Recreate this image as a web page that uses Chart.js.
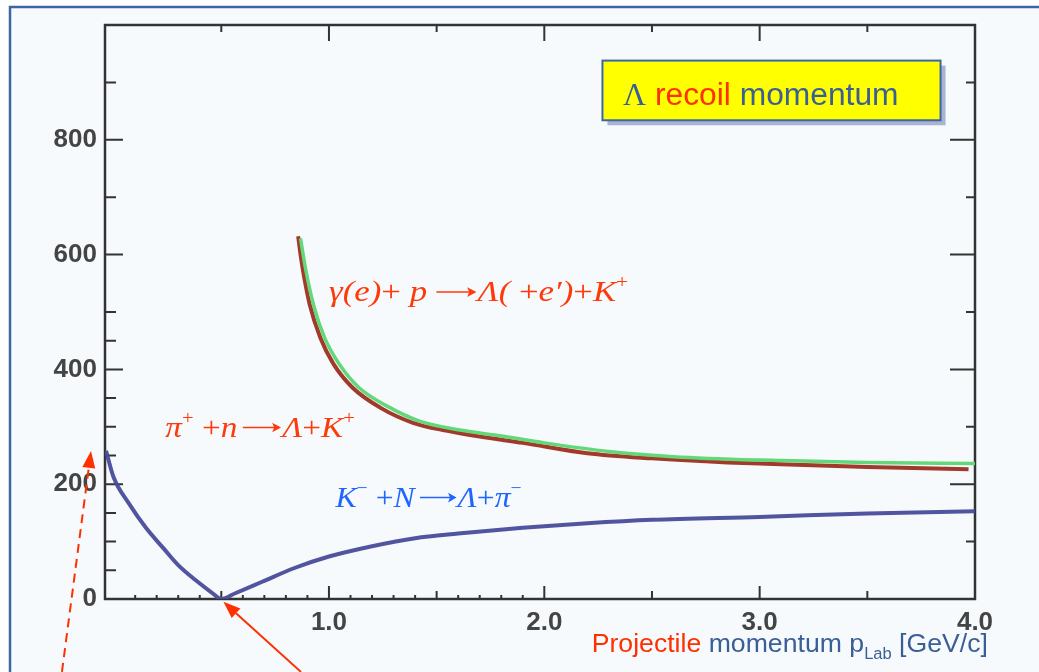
<!DOCTYPE html>
<html>
<head>
<meta charset="utf-8">
<title>Lambda recoil momentum</title>
<script src="https://cdn.jsdelivr.net/npm/chart.js@4/dist/chart.umd.min.js"></script>
<style>
  html, body { margin: 0; padding: 0; background: #ffffff; }
  #wrap { width: 1039px; height: 672px; }
</style>
</head>
<body>
<div id="wrap"><canvas id="myChart" width="1039" height="672"></canvas></div>
<script>
// tick labels
const xTicks = [1.0, 2.0, 3.0, 4.0];
const yTicks = [0, 200, 400, 600, 800];

// K- + N -> Lambda + pi-  (blue)
const kaonP = [-0.035, 0.0, 0.07, 0.15, 0.23, 0.30, 0.38, 0.46, 0.50, 0.565, 0.69, 0.84, 1.0, 1.2, 1.4, 1.6, 1.9, 2.2, 2.5, 3.0, 3.5, 4.0];
const kaonQ = [258, 212, 167, 124, 89, 59, 33, 10, 0, 10, 30, 54, 74, 92, 106, 114, 124, 132, 138, 143, 149, 153];

// gamma + p -> Lambda + K+  (red, scanned curve)
const photoP = [0.857, 0.87, 0.88, 0.91, 0.96, 1.02, 1.11, 1.24, 1.39, 1.55, 1.7, 1.9, 2.2, 2.5, 2.85, 3.0, 3.5, 3.97];
const photoQ = [632, 595, 571, 514, 455, 410, 368, 333, 307, 293, 283, 272, 254, 245, 238, 236, 230, 226];

// electroproduction curve (green), just above the red one
const electroP = [0.868, 0.89, 0.93, 0.98, 1.05, 1.14, 1.27, 1.42, 1.6, 1.8, 2.0, 2.3, 2.6, 3.0, 3.5, 4.0];
const electroQ = [628, 578, 510, 455, 408, 368, 336, 310, 295, 284, 272, 257, 248, 242, 238, 236];

function pts(xs, ys) {
  return xs.map((x, i) => ({ x: x, y: ys[i] }));
}

const inkBlue = '#3a5f96';
const inkRed = '#ff3000';

// frame with inward ticks, like the scanned plot
const framePlugin = {
  id: 'frame',
  beforeDraw(chart) {
    const ctx = chart.ctx;
    ctx.save();
    ctx.fillStyle = '#ffffff';
    ctx.fillRect(0, 0, chart.width, chart.height);
    ctx.fillStyle = '#f7fafd';
    ctx.fillRect(11, 8, chart.width - 11, chart.height - 8);
    ctx.strokeStyle = '#3b66a2';
    ctx.lineWidth = 2.5;
    ctx.beginPath();
    ctx.moveTo(10, chart.height);
    ctx.lineTo(10, 7);
    ctx.lineTo(chart.width, 7);
    ctx.stroke();
    ctx.restore();
  },
  beforeDatasetsDraw(chart) {
    const ctx = chart.ctx;
    const a = chart.chartArea;
    const xs = chart.scales.x, ys = chart.scales.y;
    ctx.save();
    ctx.strokeStyle = '#333333';
    ctx.lineWidth = 2.5;
    ctx.strokeRect(a.left, a.top, a.right - a.left, a.bottom - a.top);
    ctx.lineWidth = 2;
    ctx.beginPath();
    // left axis
    for (let v = 50; v <= 900; v += 50) {
      if (v > 500 && v % 100) continue;
      const y = ys.getPixelForValue(v);
      const len = v % 200 === 0 ? 18 : 11;
      ctx.moveTo(a.left, y); ctx.lineTo(a.left + len, y);
    }
    // right axis
    for (let v = 100; v <= 900; v += 100) {
      const y = ys.getPixelForValue(v);
      const len = v % 200 === 0 ? 25 : 9;
      ctx.moveTo(a.right, y); ctx.lineTo(a.right - len, y);
    }
    // top axis
    for (let v = 0.5; v < 4; v += 0.5) {
      const x = xs.getPixelForValue(v);
      const len = Math.abs(v % 1) < 1e-6 ? 16 : 7;
      ctx.moveTo(x, a.top); ctx.lineTo(x, a.top + len);
    }
    // bottom axis
    for (let i = 1; i < 40; i++) {
      const v = i / 10;
      const x = xs.getPixelForValue(v);
      let len = 0;
      if (i % 10 === 0) len = 13;
      else if (i % 5 === 0) len = 8;
      else if (i < 20) len = 4;
      if (!len) continue;
      ctx.moveTo(x, a.bottom); ctx.lineTo(x, a.bottom - len);
    }
    ctx.stroke();
    ctx.restore();
  }
};

// rich text: [text, kind, colour, family]; kind n / i / sup / sub / arr / gap
function segWidth(ctx, s, size, family) {
  if (s[1] === 'arr') return size * 1.25;
  if (s[1] === 'gap') return size * s[0];
  let fs = size, style = '';
  if (s[1] === 'i') style = 'italic ';
  if (s[1] === 'sup' || s[1] === 'sub') fs = size * 0.62;
  ctx.font = style + fs + 'px ' + (s[3] || family);
  return ctx.measureText(s[0]).width;
}

function drawRich(ctx, x, y, segs, size, family, endX) {
  let total = 0;
  segs.forEach(s => { total += segWidth(ctx, s, size, family); });
  const k = endX ? (endX - x) / total : 1;
  ctx.save();
  ctx.translate(x, y);
  ctx.scale(k, 1);
  let cx = 0;
  segs.forEach(s => {
    const w = segWidth(ctx, s, size, family);
    ctx.fillStyle = s[2];
    ctx.strokeStyle = s[2];
    if (s[1] === 'arr') {
      const ay = -size * 0.3;
      ctx.lineWidth = size * 0.05;
      ctx.beginPath();
      ctx.moveTo(cx + 2, ay); ctx.lineTo(cx + w - 3, ay);
      ctx.stroke();
      ctx.beginPath();
      ctx.moveTo(cx + w - 1, ay);
      ctx.lineTo(cx + w - size * 0.3, ay - size * 0.16);
      ctx.lineTo(cx + w - size * 0.24, ay);
      ctx.lineTo(cx + w - size * 0.3, ay + size * 0.16);
      ctx.closePath();
      ctx.fill();
    } else if (s[1] !== 'gap') {
      let dy = 0;
      if (s[1] === 'sup') dy = -size * 0.42;
      if (s[1] === 'sub') dy = size * 0.25;
      ctx.fillText(s[0], cx, dy);
    }
    cx += w;
  });
  ctx.restore();
}

function arrow(ctx, x1, y1, x2, y2, dashed) {
  const ang = Math.atan2(y2 - y1, x2 - x1);
  const head = 17, half = 6.5;
  const bx = x2 - head * Math.cos(ang), by = y2 - head * Math.sin(ang);
  ctx.save();
  ctx.strokeStyle = inkRed;
  ctx.fillStyle = inkRed;
  ctx.lineWidth = 2;
  if (dashed) ctx.setLineDash([9, 6]);
  ctx.beginPath();
  ctx.moveTo(x1, y1); ctx.lineTo(bx, by);
  ctx.stroke();
  ctx.setLineDash([]);
  ctx.beginPath();
  ctx.moveTo(x2, y2);
  ctx.lineTo(bx + half * Math.sin(ang), by - half * Math.cos(ang));
  ctx.lineTo(bx - half * Math.sin(ang), by + half * Math.cos(ang));
  ctx.closePath();
  ctx.fill();
  ctx.restore();
}

const notesPlugin = {
  id: 'notes',
  afterDraw(chart) {
    const ctx = chart.ctx;
    const xs = chart.scales.x, ys = chart.scales.y;
    const px = v => xs.getPixelForValue(v);
    const py = v => ys.getPixelForValue(v);
    const serif = '"Liberation Serif", "DejaVu Serif", serif';
    const sans = '"Liberation Sans", Arial, sans-serif';
    ctx.save();
    ctx.textBaseline = 'alphabetic';
    ctx.textAlign = 'left';

    // title box
    const bx1 = px(2.27), bx2 = px(3.84), by1 = py(938), by2 = py(834);
    ctx.fillStyle = '#a9b3d3';
    ctx.fillRect(bx1 + 5, by1 + 5, bx2 - bx1, by2 - by1);
    ctx.fillStyle = '#ffff00';
    ctx.fillRect(bx1, by1, bx2 - bx1, by2 - by1);
    ctx.strokeStyle = '#3b66a2';
    ctx.lineWidth = 2;
    ctx.strokeRect(bx1, by1, bx2 - bx1, by2 - by1);
    drawRich(ctx, px(2.366), py(861), [
      ['Λ', 'n', inkBlue, serif],
      [' recoil', 'n', inkRed],
      [' momentum', 'n', inkBlue]
    ], 31, sans, px(3.645));

    // reactions
    const red = '#ff3a0a';
    drawRich(ctx, px(1.0), py(519), [
      ['γ(e)', 'i', red], ['+', 'n', red], [' p', 'i', red], [0.2, 'gap'], ['', 'arr', red],
      ['Λ(', 'i', red], [' +', 'n', red], ['e′)', 'i', red], ['+', 'n', red],
      ['K', 'i', red], ['+', 'sup', red]
    ], 30, serif, px(2.39));
    drawRich(ctx, px(0.24), py(283), [
      ['π', 'i', red], ['+', 'sup', red], [' +', 'n', red], ['n', 'i', red],
      [0.1, 'gap'], ['', 'arr', red], ['Λ', 'i', red], ['+', 'n', red], ['K', 'i', red], ['+', 'sup', red]
    ], 30, serif, px(1.12));
    const blue = '#1f66ff';
    drawRich(ctx, px(1.03), py(161), [
      ['K', 'i', blue], ['−', 'sup', blue], [' +', 'n', blue], ['N', 'i', blue],
      [0.1, 'gap'], ['', 'arr', blue], ['Λ', 'i', blue], ['+', 'n', blue], ['π', 'i', blue], ['−', 'sup', blue]
    ], 30, serif, px(1.895));

    // axis title
    drawRich(ctx, px(2.22), py(-93), [
      ['Projectile', 'n', inkRed],
      [' momentum p', 'n', inkBlue],
      ['Lab', 'sub', inkBlue],
      [' [GeV/c]', 'n', inkBlue]
    ], 26, sans, px(4.06));

    // arrows
    arrow(ctx, px(-0.24), py(-127), px(-0.105), py(258), true);
    arrow(ctx, px(0.87), py(-127), px(0.51), py(-5), false);
    ctx.restore();
  }
};

const ctx = document.getElementById('myChart').getContext('2d');
const tickFont = { family: '"Liberation Sans", Arial, sans-serif', size: 26, weight: 'bold' };

const config = {
  type: 'scatter',
  data: {
    datasets: [
      {
        label: 'K- N',
        data: pts(kaonP, kaonQ),
        showLine: true,
        borderColor: 'rgba(72, 76, 155, 0.95)',
        borderWidth: 4,
        pointRadius: 0,
        cubicInterpolationMode: 'monotone'
      },
      {
        label: 'e p',
        data: pts(electroP, electroQ),
        showLine: true,
        borderColor: '#62d879',
        borderWidth: 3.5,
        pointRadius: 0,
        cubicInterpolationMode: 'monotone'
      },
      {
        label: 'gamma p',
        data: pts(photoP, photoQ),
        showLine: true,
        borderColor: '#a23a2c',
        borderWidth: 4,
        pointRadius: 0,
        cubicInterpolationMode: 'monotone'
      }
    ]
  },
  options: {
    responsive: false,
    animation: false,
    layout: { padding: { left: 0, right: 64, top: 25, bottom: 0 } },
    plugins: {
      legend: { display: false },
      tooltip: { enabled: false }
    },
    scales: {
      x: {
        type: 'linear',
        min: -0.04,
        max: 4.0,
        afterBuildTicks: s => { s.ticks = xTicks.map(v => ({ value: v })); },
        afterFit: s => { s.height = 73; },
        grid: { display: false, drawTicks: false },
        border: { display: false },
        ticks: {
          padding: 8,
          color: '#444444',
          font: tickFont,
          maxRotation: 0,
          callback: v => v.toFixed(1)
        }
      },
      y: {
        type: 'linear',
        min: 0,
        max: 1000,
        afterBuildTicks: s => { s.ticks = yTicks.map(v => ({ value: v })); },
        afterFit: s => { s.width = 105; },
        grid: { display: false, drawTicks: false },
        border: { display: false },
        ticks: {
          padding: 8,
          color: '#444444',
          font: tickFont,
          callback: v => String(v)
        }
      }
    }
  },
  plugins: [framePlugin, notesPlugin]
};

var c = new Chart(ctx, config);
</script>
</body>
</html>
